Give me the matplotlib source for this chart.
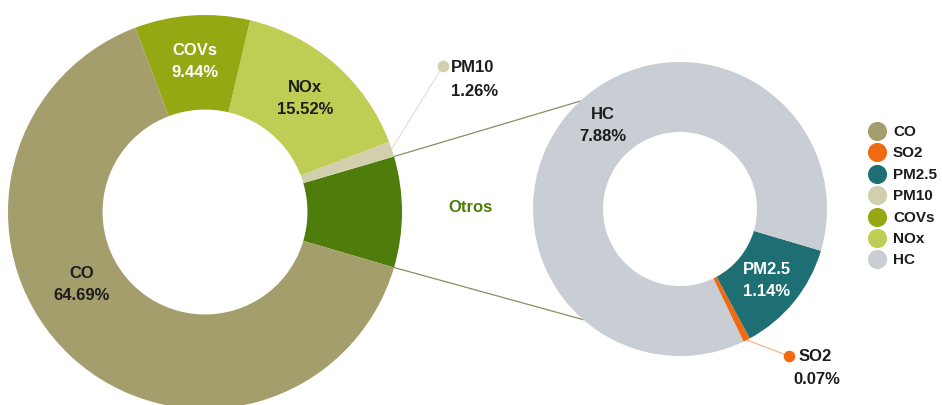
import numpy as np
import matplotlib
matplotlib.use("Agg")
import matplotlib.pyplot as plt

plt.rcParams['font.family'] = ['Liberation Sans Narrow', 'Liberation Sans', 'DejaVu Sans']
plt.rcParams['font.weight'] = 'bold'

# Main breakdown (% of total emissions)
main_labels = ["Otros", "PM10", "NOx", "COVs", "CO"]
main_values = [9.09, 1.26, 15.52, 9.44, 64.69]
main_colors = ["#4f7d0b", "#d2cfae", "#bfcd55", "#95a814", "#a49d6c"]

# Breakdown of "Otros"
other_labels = ["SO2", "PM2.5", "HC"]
other_values = [0.07, 1.14, 7.88]
other_colors = ["#f06a12", "#1d6f73", "#c9cdd4"]

# Legend entries
legend_labels = ["CO", "SO2", "PM2.5", "PM10", "COVs", "NOx", "HC"]
legend_colors = ["#a49d6c", "#f06a12", "#1d6f73", "#d2cfae", "#95a814", "#bfcd55", "#c9cdd4"]

W, H = 942, 406
fig = plt.figure(figsize=(W / 100, H / 100), dpi=100)
ax = fig.add_axes([0, 0, 1, 1])

DARK = "#1c1c1c"
FS = 12

# ---- left donut ----
lc, lr = (205, H - 213), 197
l_start = -main_values[0] / sum(main_values) * 180
lw, _ = ax.pie(main_values, colors=main_colors, center=lc, radius=lr,
               startangle=l_start, counterclock=True,
               wedgeprops=dict(width=lr * 0.48, linewidth=0))

# ---- right donut ----
rc, rr = (680, H - 210), 147
tot_o = sum(other_values)
r_start = -16.5 - (other_values[0] + other_values[1]) / tot_o * 360
rw, _ = ax.pie(other_values, colors=other_colors, center=rc, radius=rr,
               startangle=r_start, counterclock=True,
               wedgeprops=dict(width=rr * 0.476, linewidth=0))


def polar(c, r, ang):
    a = np.deg2rad(ang)
    return c[0] + r * np.cos(a), c[1] + r * np.sin(a)


def mid(w):
    return (w.theta1 + w.theta2) / 2


# connectors from "Otros" wedge to the detail donut
ow = lw[0]
for ang_l, ang_r in [(ow.theta2, 132.8), (ow.theta1, 228.8)]:
    p0 = polar(lc, lr, ang_l)
    p1 = polar(rc, rr, ang_r)
    ax.plot([p0[0], p1[0]], [p0[1], p1[1]], color="#8c8c62", lw=0.9, zorder=0)

# in-ring labels
def ring_label(c, r, ang, name, val, color):
    x, y = polar(c, r, ang)
    ax.text(x, y + 11, name, ha="center", va="center", fontsize=FS, color=color)
    ax.text(x, y - 11, f"{val:.2f}%", ha="center", va="center", fontsize=FS, color=color)

ring_label(lc, 152, mid(lw[3]), "COVs", main_values[3], "white")
ring_label(lc, 152, mid(lw[2]), "NOx", main_values[2], DARK)
ring_label(lc, 142, 210, "CO", main_values[4], DARK)
ring_label(rc, 114, 132.5, "HC", other_values[2], DARK)
ring_label(rc, 112, mid(rw[1]), "PM2.5", other_values[1], "white")

ax.text(470, H - 208, "Otros", ha="center", va="center", fontsize=FS, color="#4f7d0b")

# PM10 call-out
p0 = polar(lc, lr, mid(lw[1]))
dot = (443, H - 67)
ax.plot([p0[0], dot[0]], [p0[1], dot[1]], color="#e3e2d4", lw=0.9, zorder=0)
ax.scatter([dot[0]], [dot[1]], s=70, color="#d2cfae", zorder=3, linewidths=0)
ax.text(451, dot[1], main_labels[1], ha="left", va="center", fontsize=FS, color=DARK)
ax.text(451, dot[1] - 24, f"{main_values[1]:.2f}%", ha="left", va="center", fontsize=FS, color=DARK)

# SO2 call-out
p0 = polar(rc, rr, mid(rw[0]))
dot = (789, H - 357)
ax.plot([p0[0], dot[0]], [p0[1], dot[1]], color="#f3b58c", lw=0.9, zorder=0)
ax.scatter([dot[0]], [dot[1]], s=70, color="#f06a12", zorder=3, linewidths=0)
ax.text(799, dot[1], other_labels[0], ha="left", va="center", fontsize=FS, color=DARK)
ax.text(793, dot[1] - 23, f"{other_values[0]:.2f}%", ha="left", va="center", fontsize=FS, color=DARK)

# legend
for i, (lab, col) in enumerate(zip(legend_labels, legend_colors)):
    y = H - (132 + i * 21.4)
    ax.scatter([877], [y], s=190, color=col, linewidths=0, zorder=3)
    ax.text(893, y, lab, ha="left", va="center", fontsize=11, color=DARK)

ax.set_xlim(0, W)
ax.set_ylim(0, H)
ax.set_aspect("equal")
ax.axis("off")

fig.savefig("out.png", dpi=100)
